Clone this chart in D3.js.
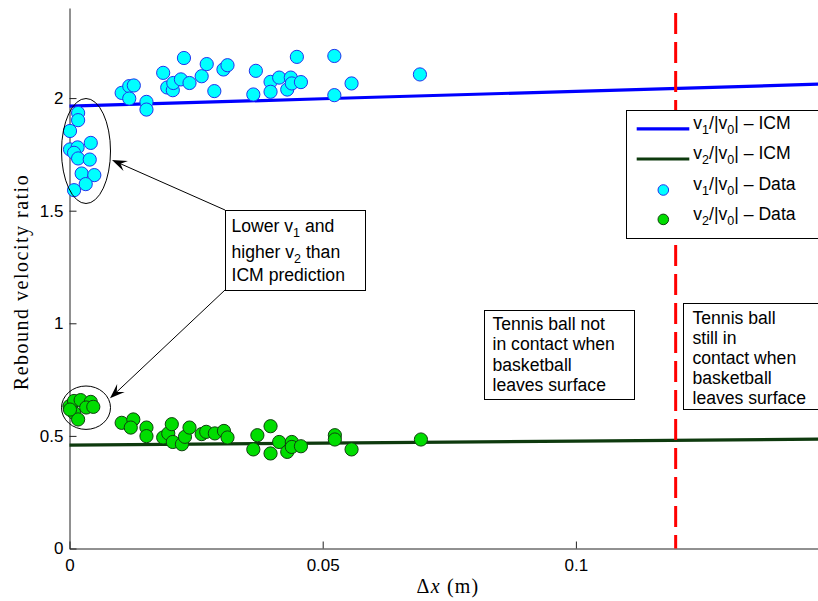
<!DOCTYPE html>
<html>
<head>
<meta charset="utf-8">
<script src="https://cdn.jsdelivr.net/npm/d3@7"></script>
<style>
body { margin: 0; background: #fff; }
svg { display: block; font-family: "Liberation Sans", Arial, sans-serif; }
</style>
</head>
<body>
<div class="chart"></div>
<script>
// v1/|v0| measured points (cyan)
var v1X = [0.0017, 0.0017, 0.0001, 0.0001, 0.0016, 0.0042, 0.0009, 0.0017, 0.0040, 0.0024, 0.0049, 0.0032, 0.0009,
    0.0103, 0.0118, 0.0127, 0.0118, 0.0152, 0.0152, 0.0185, 0.0226, 0.0193, 0.0204, 0.0205, 0.0220, 0.0237,
    0.0261, 0.0271, 0.0304, 0.0312, 0.0286, 0.0363, 0.0368, 0.0397, 0.0397, 0.0414, 0.0430, 0.0437, 0.0439,
    0.0457, 0.0449, 0.0523, 0.0523, 0.0557, 0.0692];
var v1Y = [1.934, 1.902, 1.854, 1.772, 1.781, 1.801, 1.757, 1.732, 1.727, 1.665, 1.658, 1.618, 1.591,
    2.023, 2.053, 2.056, 1.998, 1.983, 1.949, 2.112, 2.178, 2.047, 2.035, 2.067, 2.083, 2.067,
    2.097, 2.151, 2.127, 2.146, 2.031, 2.016, 2.121, 2.072, 2.028, 2.091, 2.038, 2.091, 2.065,
    2.071, 2.183, 2.187, 2.013, 2.065, 2.105];

// v2/|v0| measured points (green)
var v2X = [0.0000, 0.0009, 0.0022, 0.0042, 0.0033, 0.0047, 0.0009, 0.0017, 0.0001,
    0.0103, 0.0126, 0.0121, 0.0152, 0.0152, 0.0185, 0.0195, 0.0202, 0.0204, 0.0222, 0.0228, 0.0237,
    0.0261, 0.0270, 0.0287, 0.0305, 0.0312, 0.0363, 0.0371, 0.0397, 0.0397, 0.0414, 0.0430, 0.0439,
    0.0439, 0.0457, 0.0524, 0.0524, 0.0557, 0.0694];
var v2Y = [0.632, 0.655, 0.659, 0.651, 0.626, 0.629, 0.602, 0.573, 0.617,
    0.558, 0.573, 0.537, 0.537, 0.499, 0.493, 0.511, 0.552, 0.473, 0.463, 0.496, 0.537,
    0.508, 0.518, 0.511, 0.522, 0.493, 0.440, 0.503, 0.543, 0.422, 0.473, 0.429, 0.473,
    0.451, 0.454, 0.503, 0.484, 0.440, 0.484];

// ICM model curves
var icmX = [0, 0.05, 0.1, 0.15];
var icmV1 = [1.964, 1.997, 2.030, 2.063];
var icmV2 = [0.459, 0.468, 0.477, 0.486];

var contactLimit = 0.1197; // red dashed line

var xTicks = [0, 0.05, 0.1];
var xTickLabels = ["0", "0.05", "0.1"];
var yTicks = [0, 0.5, 1, 1.5, 2];
var yTickLabels = ["0", "0.5", "1", "1.5", "2"];

var legendLabels = ["v_1/|v_0| – ICM", "v_2/|v_0| – ICM", "v_1/|v_0| – Data", "v_2/|v_0| – Data"];
var noteLeft = ["Lower v_1 and", "higher v_2 than", "ICM prediction"];
var noteMid = ["Tennis ball not", "in contact when", "basketball", "leaves surface"];
var noteRight = ["Tennis ball", "still in", "contact when", "basketball", "leaves surface"];

var width = 818, height = 601;
var blue = "#0000ff", dkGreen = "#0e3a0e";
var cyanFill = "#00ffff", cyanEdge = "#2233ee";
var greenFill = "#00dd00", greenEdge = "#104010";
var txtSize = 17.6;

var svg = d3.select("div.chart").append("svg")
    .attr("width", width)
    .attr("height", height);

svg.append("rect").attr("width", width).attr("height", height).attr("fill", "#fff");

// axis goes to 0.15 but the figure is cut at the right edge
var x = d3.scaleLinear().domain([0, 0.15]).range([69.5, 829.1]);
var y = d3.scaleLinear().domain([0, 2.4]).range([548.5, 8]);

// text with _x subscripts
function richText(t, str) {
    var parts = str.split(/(_.)/).filter(function(p) { return p.length; });
    var down = false;
    parts.forEach(function(p) {
        if (p[0] === "_") {
            t.append("tspan").attr("dy", 5).attr("font-size", 12.5).text(p.slice(1));
            down = true;
        } else {
            t.append("tspan").attr("dy", down ? -5 : 0).text(p);
            down = false;
        }
    });
}

// axes
var gx = svg.append("g")
    .attr("transform", "translate(0," + y(0) + ")")
    .call(d3.axisBottom(x).tickValues(xTicks).tickFormat(function(d, i) { return xTickLabels[i]; })
        .tickSizeInner(-7).tickSizeOuter(0).tickPadding(10));
var gy = svg.append("g")
    .attr("transform", "translate(" + x(0) + ",0)")
    .call(d3.axisLeft(y).tickValues(yTicks).tickFormat(function(d, i) { return yTickLabels[i]; })
        .tickSizeInner(-7).tickSizeOuter(0).tickPadding(6));
[gx, gy].forEach(function(g) {
    g.attr("font-family", "'Liberation Sans', Arial, sans-serif").attr("font-size", 17);
    g.selectAll("path, line").attr("stroke", "#222");
    g.selectAll("text").attr("fill", "#000");
});

svg.append("text")
    .attr("x", 448).attr("y", 593)
    .attr("text-anchor", "middle")
    .attr("font-family", "'Liberation Serif', 'Times New Roman', serif")
    .attr("font-size", 20)
    .attr("letter-spacing", 1.2)
    .html("Δ<tspan font-style='italic'>x</tspan> (m)");

svg.append("text")
    .attr("transform", "translate(28,282) rotate(-90)")
    .attr("text-anchor", "middle")
    .attr("font-family", "'Liberation Serif', 'Times New Roman', serif")
    .attr("font-size", 20)
    .attr("letter-spacing", 1.5)
    .text("Rebound velocity ratio");

// ICM lines
var line = d3.line().x(function(d) { return x(d[0]); }).y(function(d) { return y(d[1]); });
svg.append("path").datum(d3.zip(icmX, icmV1))
    .attr("d", line).attr("fill", "none").attr("stroke", blue).attr("stroke-width", 3.2);
svg.append("path").datum(d3.zip(icmX, icmV2))
    .attr("d", line).attr("fill", "none").attr("stroke", dkGreen).attr("stroke-width", 3.2);

// data points
svg.append("g").selectAll("circle")
    .data(d3.zip(v1X, v1Y))
    .enter().append("circle")
    .attr("cx", function(d) { return x(d[0]); })
    .attr("cy", function(d) { return y(d[1]); })
    .attr("r", 6.6)
    .attr("fill", cyanFill).attr("stroke", cyanEdge).attr("stroke-width", 1);
svg.append("g").selectAll("circle")
    .data(d3.zip(v2X, v2Y))
    .enter().append("circle")
    .attr("cx", function(d) { return x(d[0]); })
    .attr("cy", function(d) { return y(d[1]); })
    .attr("r", 6.6)
    .attr("fill", greenFill).attr("stroke", greenEdge).attr("stroke-width", 1);

// contact limit
svg.append("line")
    .attr("x1", x(contactLimit)).attr("x2", x(contactLimit))
    .attr("y1", y(2.4)).attr("y2", y(0))
    .attr("stroke", "#ff0000").attr("stroke-width", 3)
    .attr("stroke-dasharray", "21,8").attr("stroke-dashoffset", 24);

// ellipses round the clusters
svg.append("ellipse").attr("cx", 86).attr("cy", 151).attr("rx", 24.5).attr("ry", 52.5)
    .attr("fill", "none").attr("stroke", "#000").attr("stroke-width", 1);
svg.append("ellipse").attr("cx", 86).attr("cy", 407.7).attr("rx", 24.5).attr("ry", 21.7)
    .attr("fill", "none").attr("stroke", "#000").attr("stroke-width", 1);

function arrow(x0, y0, x1, y1) {
    var dx = x1 - x0, dy = y1 - y0, len = Math.sqrt(dx * dx + dy * dy);
    var ux = dx / len, uy = dy / len, nx = -uy, ny = ux;
    var L = 15, W = 5.5;
    svg.append("line").attr("x1", x0).attr("y1", y0)
        .attr("x2", x1 - ux * 8).attr("y2", y1 - uy * 8)
        .attr("stroke", "#000").attr("stroke-width", 1);
    var pts = [
        [x1, y1],
        [x1 - ux * L + nx * W, y1 - uy * L + ny * W],
        [x1 - ux * L * 0.62, y1 - uy * L * 0.62],
        [x1 - ux * L - nx * W, y1 - uy * L - ny * W]
    ];
    svg.append("path").attr("d", "M" + pts.join("L") + "Z").attr("fill", "#000");
}
arrow(225, 210, 112, 160);
arrow(225, 290, 110, 398.3);

// text boxes
function noteBox(x0, y0, w, h, tx, baselines, lines) {
    svg.append("rect").attr("x", x0).attr("y", y0).attr("width", w).attr("height", h)
        .attr("fill", "#fff").attr("stroke", "#000").attr("stroke-width", 1);
    lines.forEach(function(s, i) {
        var t = svg.append("text").attr("x", tx).attr("y", baselines[i])
            .attr("font-size", txtSize).attr("fill", "#000");
        richText(t, s);
    });
}
noteBox(225.5, 210.5, 140, 80, 231.5, [231.7, 258, 281], noteLeft);
noteBox(484.5, 310.5, 150, 89, 492.5, [330, 350.3, 370.6, 390.9], noteMid);
noteBox(683.5, 303.5, 150, 106, 692.5, [323.5, 343.7, 363.9, 384.1, 404.3], noteRight);

// legend
var lg = svg.append("g");
lg.append("rect").attr("x", 626.5).attr("y", 110.5).attr("width", 210).attr("height", 128)
    .attr("fill", "#fff").attr("stroke", "#000").attr("stroke-width", 1);
var legendRows = [128.8, 159, 190, 219.4];
var legendBase = [128.5, 158.5, 190, 219.5];
[blue, dkGreen].forEach(function(c, i) {
    lg.append("line").attr("x1", 636.7).attr("x2", 689.3)
        .attr("y1", legendRows[i]).attr("y2", legendRows[i])
        .attr("stroke", c).attr("stroke-width", 3.2);
});
[[cyanFill, cyanEdge], [greenFill, greenEdge]].forEach(function(c, i) {
    lg.append("circle").attr("cx", 663.3).attr("cy", legendRows[i + 2]).attr("r", 5.3)
        .attr("fill", c[0]).attr("stroke", c[1]).attr("stroke-width", 1);
});
legendLabels.forEach(function(s, i) {
    var t = lg.append("text").attr("x", 693.3).attr("y", legendBase[i])
        .attr("font-size", txtSize).attr("fill", "#000");
    richText(t, s);
});
</script>
</body>
</html>
